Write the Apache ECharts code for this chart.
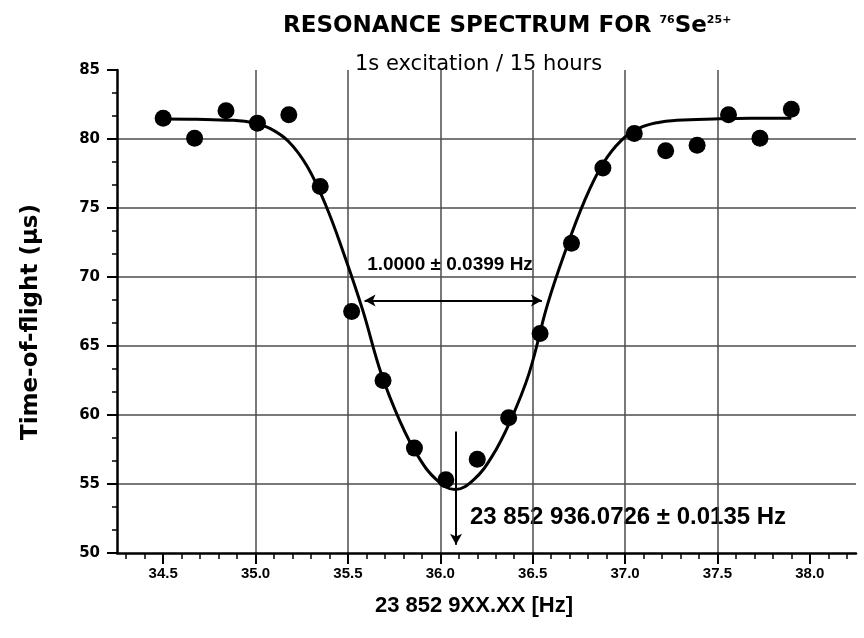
<!DOCTYPE html>
<html>
<head>
<meta charset="utf-8">
<script src="https://cdn.jsdelivr.net/npm/echarts@6/dist/echarts.min.js"></script>
<style>
  html, body { margin: 0; padding: 0; background: #fff; }
  #chart { width: 864px; height: 638px; }
</style>
</head>
<body>
<div id="chart"></div>
<script>
// measured time-of-flight points
const freqs = [34.50, 34.67, 34.84, 35.01, 35.18, 35.35, 35.52, 35.69, 35.86, 36.03, 36.20,
               36.37, 36.54, 36.71, 36.88, 37.05, 37.22, 37.39, 37.56, 37.73, 37.90];
const tof = [81.5, 80.05, 82.05, 81.15, 81.75, 76.55, 67.5, 62.5, 57.6, 55.3, 56.8,
             59.8, 65.9, 72.45, 77.9, 80.4, 79.15, 79.55, 81.75, 80.05, 82.15];

// fitted curve
const fitFreqs = [34.50, 34.68, 34.88, 34.98, 35.08, 35.18, 35.28, 35.38, 35.48, 35.58,
                  35.68, 35.78, 35.88, 35.98, 36.08, 36.18, 36.28, 36.38, 36.48, 36.58,
                  36.68, 36.78, 36.88, 36.98, 37.08, 37.18, 37.28, 37.48, 37.68, 37.90];
const fitTof = [81.45, 81.43, 81.35, 81.2, 80.75, 79.8, 78.0, 75.2, 71.6, 67.6,
                63.0, 59.6, 57.0, 55.3, 54.6, 55.3, 57.0, 59.6, 63.0, 68.0,
                72.0, 75.5, 78.2, 79.9, 80.8, 81.2, 81.35, 81.45, 81.5, 81.5];

const xTicks = [34.5, 35.0, 35.5, 36.0, 36.5, 37.0, 37.5, 38.0];

// annotation arrows (data units)
const fwhmArrowX = [35.59, 36.55];
const fwhmLevel = 68.3;
const centerX = 36.085;
const centerArrowY = [58.8, 50.6];

const gridColor = '#4d4d4d';

let chart = echarts.init(document.getElementById('chart'));

let options = {
  animation: false,
  backgroundColor: '#fff',
  title: [
    {
      text: '{t|RESONANCE SPECTRUM FOR }{s|76}{t|Se}{s|25+}',
      left: 278,
      top: 10,
      textStyle: {
        rich: {
          t: { fontFamily: 'DejaVu Sans', fontWeight: 'bold', fontSize: 23, color: '#000' },
          s: { fontFamily: 'DejaVu Sans', fontWeight: 'bold', fontSize: 11, color: '#000', verticalAlign: 'top' }
        }
      }
    },
    {
      text: '1s excitation / 15 hours',
      left: 350,
      top: 49,
      textStyle: { fontFamily: 'DejaVu Sans', fontWeight: 'normal', fontSize: 21, color: '#000' }
    }
  ],
  grid: { left: 117, right: 8, top: 70, bottom: 85 },
  xAxis: {
    type: 'value',
    min: 34.25,
    max: 38.25,
    splitNumber: 8,
    axisLine: { show: true, onZero: false, lineStyle: { color: '#000', width: 2.5 } },
    axisTick: { show: true, length: 11, customValues: xTicks, lineStyle: { color: '#000', width: 2 } },
    minorTick: { show: true, splitNumber: 5, length: 6, lineStyle: { color: '#000', width: 1.5 } },
    axisLabel: {
      margin: 13,
      color: '#000',
      fontFamily: 'Liberation Sans',
      fontWeight: 'bold',
      fontSize: 15,
      formatter: v => xTicks.includes(v) ? v.toFixed(1) : ''
    },
    splitLine: { show: true, showMinLine: false, showMaxLine: false, lineStyle: { color: gridColor, width: 1.5 } }
  },
  yAxis: {
    type: 'value',
    min: 50,
    max: 85,
    interval: 5,
    axisLine: { show: true, lineStyle: { color: '#000', width: 2.5 } },
    axisTick: { show: true, length: 10, lineStyle: { color: '#000', width: 2 } },
    minorTick: { show: true, splitNumber: 3, length: 5, lineStyle: { color: '#000', width: 1.5 } },
    axisLabel: { margin: 17, color: '#000', fontFamily: 'DejaVu Sans', fontWeight: 'bold', fontSize: 15 },
    splitLine: { show: true, showMinLine: false, showMaxLine: false, lineStyle: { color: gridColor, width: 1.5 } }
  },
  graphic: [
    {
      type: 'text', x: 31, y: 322, rotation: Math.PI / 2,
      style: { text: 'Time-of-flight (\u00b5s)', textAlign: 'center', textVerticalAlign: 'middle',
               font: 'bold 23px "DejaVu Sans"', fill: '#000' }
    },
    {
      type: 'text', x: 474, y: 606,
      style: { text: '23 852 9XX.XX [Hz]', textAlign: 'center', textVerticalAlign: 'middle',
               font: 'bold 22px "Liberation Sans"', fill: '#000' }
    },
    {
      type: 'text', x: 450, y: 265,
      style: { text: '1.0000 \u00b1 0.0399 Hz', textAlign: 'center', textVerticalAlign: 'middle',
               font: 'bold 19px "Liberation Sans"', fill: '#000' }
    },
    {
      type: 'text', x: 470, y: 517,
      style: { text: '23 852 936.0726 \u00b1 0.0135 Hz', textAlign: 'left', textVerticalAlign: 'middle',
               font: 'bold 24px "Liberation Sans"', fill: '#000' }
    }
  ],
  series: [
    {
      name: 'fit',
      type: 'line',
      data: fitFreqs.map((f, i) => [f, fitTof[i]]),
      showSymbol: false,
      smooth: 0.4,
      lineStyle: { color: '#000', width: 3 },
      z: 3,
      markLine: {
        silent: true,
        symbolSize: [9, 11],
        label: { show: false },
        lineStyle: { color: '#000', width: 2, type: 'solid' },
        data: [
          [
            { coord: [fwhmArrowX[0], fwhmLevel], symbol: 'arrow' },
            { coord: [fwhmArrowX[1], fwhmLevel], symbol: 'arrow' }
          ],
          [
            { coord: [centerX, centerArrowY[0]], symbol: 'none' },
            { coord: [centerX, centerArrowY[1]], symbol: 'arrow' }
          ]
        ]
      }
    },
    {
      name: 'data',
      type: 'scatter',
      data: freqs.map((f, i) => [f, tof[i]]),
      symbolSize: 17,
      itemStyle: { color: '#000', opacity: 1 },
      z: 4
    }
  ]
};

chart.setOption(options);
</script>
</body>
</html>
